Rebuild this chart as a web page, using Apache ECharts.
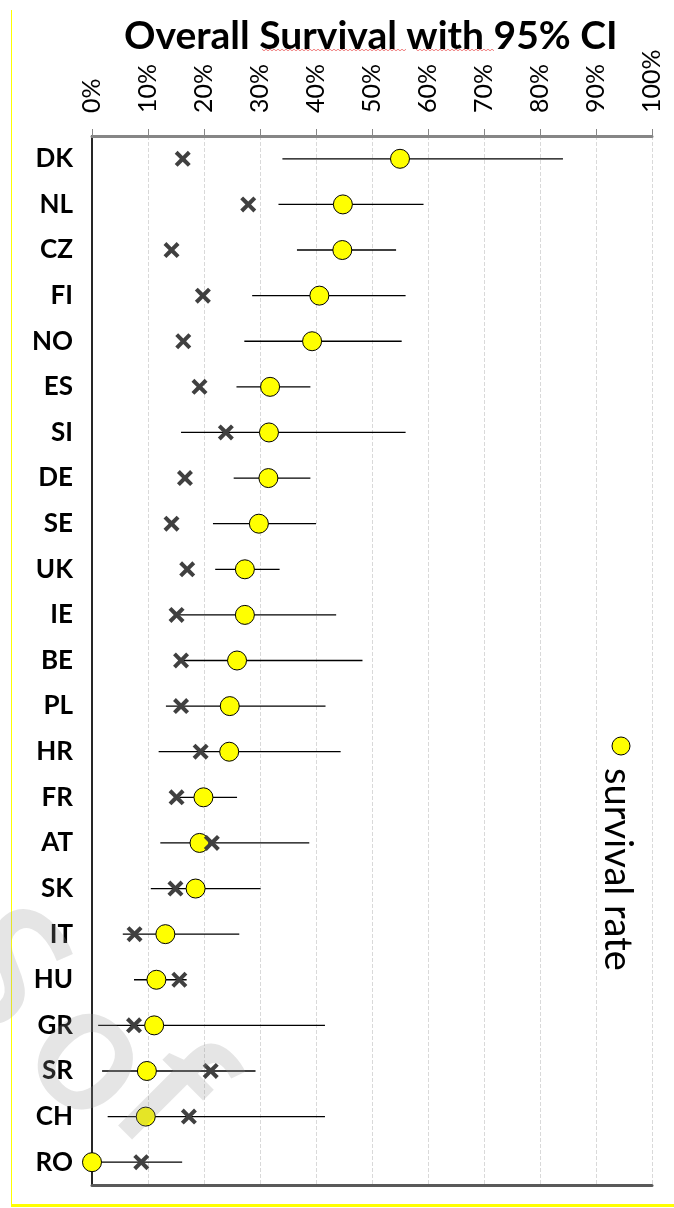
<!DOCTYPE html>
<html>
<head>
<meta charset="utf-8">
<script src="https://cdn.jsdelivr.net/npm/echarts@6/dist/echarts.min.js"></script>
<style>
html,body{margin:0;padding:0;background:#fff;}
#chart{width:674px;height:1208px;}
</style>
</head>
<body>
<div id="chart"></div>
<script>
const countries = ['DK','NL','CZ','FI','NO','ES','SI','DE','SE','UK','IE','BE','PL','HR','FR','AT','SK','IT','HU','GR','SR','CH','RO'];
const survival  = [55.0,44.8,44.7,40.6,39.3,31.8,31.6,31.5,29.8,27.3,27.3,25.9,24.6,24.5,19.9,19.2,18.5,13.1,11.5,11.1,9.8,9.6,0];
const ciLow     = [34.0,33.3,36.6,28.6,27.2,25.8,15.9,25.3,21.6,22.0,15.4,16.3,13.2,11.9,15.6,12.2,10.5,5.5,7.5,1.1,1.8,2.8,0];
const ciHigh    = [84.1,59.2,54.3,56.0,55.3,39.0,56.0,39.0,40.0,33.5,43.6,48.3,41.7,44.4,25.9,38.8,30.1,26.3,16.9,41.6,29.2,41.6,16.1];
const reference = [16.2,27.9,14.2,19.8,16.3,19.2,23.9,16.6,14.2,17.0,15.1,15.9,15.9,19.4,15.1,21.4,14.9,7.6,15.6,7.5,21.2,17.3,8.8];
const xTicks = [0,10,20,30,40,50,60,70,80,90,100];
const watermarkLetters = ['S','o','f'];

const chart = echarts.init(document.getElementById('chart'));
const ciData = countries.map((c,i)=>[ciLow[i], ciHigh[i], i]);
const xShape = 'path://M0,2.5 L2.5,0 L7,4.5 L11.5,0 L14,2.5 L9.5,7 L14,11.5 L11.5,14 L7,9.5 L2.5,14 L0,11.5 L4.5,7 Z';

function squiggle(x0, x1, y){
  const pts = [];
  let up = true;
  for (let x = x0; x <= x1; x += 2) { pts.push([x, y + (up ? -0.8 : 0.8)]); up = !up; }
  return pts;
}
const wmPos = [[-2, 975], [87, 1060], [162, 1100]];
const wmGraphics = watermarkLetters.map((ch, i)=>({
  type:'text', x:wmPos[i][0], y:wmPos[i][1], rotation:-0.785,
  style:{text:ch, fontFamily:'Open Sans', fontWeight:600, fontSize:172,
    fill:'rgba(150,150,150,0.25)', textAlign:'center', textVerticalAlign:'middle'}, z:20
}));

const option = {
  animation:false,
  backgroundColor:'#fff',
  title:{
    text:'Overall Survival with 95% CI',
    left:119, top:12,
    textStyle:{fontFamily:'Lato', fontWeight:'bold', fontSize:39, color:'#000'}
  },
  grid:{left:92, right:22, top:136, bottom:23, containLabel:false},
  xAxis:[{
    type:'value', position:'top', min:xTicks[0], max:xTicks[xTicks.length-1], interval:10,
    axisLine:{show:true, lineStyle:{color:'#868686', width:3}},
    axisTick:{show:true, length:7, lineStyle:{color:'#868686', width:1}},
    axisLabel:{rotate:-90, margin:23, fontFamily:'Lato', fontSize:25, color:'#000', formatter:v=>v+'%'},
    splitLine:{show:true, lineStyle:{color:'#d9d9d9', type:'dashed', width:1}}
  },{
    type:'value', position:'bottom', min:0, max:100, interval:10,
    axisLine:{show:true, lineStyle:{color:'#595959', width:3}},
    axisTick:{show:false}, axisLabel:{show:false}, splitLine:{show:false}
  }],
  yAxis:[{
    type:'category', data:countries, inverse:true,
    axisLine:{show:true, lineStyle:{color:'#7f7f7f', width:2}},
    axisTick:{show:false},
    axisLabel:{margin:19, fontFamily:'Lato', fontWeight:'bold', fontSize:26, color:'#000'}
  },{
    type:'category', data:countries, inverse:true, position:'right',
    axisLine:{show:true, lineStyle:{color:'#262626', width:2}},
    axisTick:{show:false}, axisLabel:{show:false}
  }],
  series:[{
    type:'custom', name:'95% CI',
    data:ciData,
    encode:{x:[0,1], y:2},
    renderItem:function(params, api){
      const p1 = api.coord([api.value(0), api.value(2)]);
      const p2 = api.coord([api.value(1), api.value(2)]);
      return {type:'line', shape:{x1:p1[0], y1:p1[1], x2:p2[0], y2:p2[1]},
        style:{stroke:'#000', lineWidth:1.3}};
    },
    z:2
  },{
    type:'scatter', name:'survival rate', data:survival.map((v,i)=>[v,i]),
    symbol:'circle', symbolSize:19,
    itemStyle:{color:'#FFFF00', borderColor:'#000', borderWidth:1, opacity:1},
    z:3
  },{
    type:'scatter', name:'reference', data:reference.map((v,i)=>[v,i]),
    symbol:xShape, symbolSize:16,
    itemStyle:{color:'#404040', opacity:1},
    z:4
  }],
  graphic:[
    {type:'line', shape:{x1:11.5,y1:10,x2:11.5,y2:1206}, style:{stroke:'#FFFF00', lineWidth:1}, z:10},
    {type:'line', shape:{x1:11,y1:1205.5,x2:674,y2:1205.5}, style:{stroke:'#FFFF00', lineWidth:3}, z:10},
    {type:'polyline', shape:{points:squiggle(262,406,50)}, style:{stroke:'#f08080', lineWidth:1, fill:null}, z:10},
    {type:'polyline', shape:{points:squiggle(416,494,50)}, style:{stroke:'#f08080', lineWidth:1, fill:null}, z:10},
    {type:'circle', shape:{cx:621, cy:746, r:9}, style:{fill:'#FFFF00', stroke:'#000', lineWidth:1}, z:10},
    {type:'text', x:636, y:768, rotation:-Math.PI/2,
      style:{text:'survival rate', fontFamily:'Lato', fontSize:38, fill:'#000', textVerticalAlign:'top', textAlign:'left'}, z:10}
  ].concat(wmGraphics)
};
chart.setOption(option);
</script>
</body>
</html>
